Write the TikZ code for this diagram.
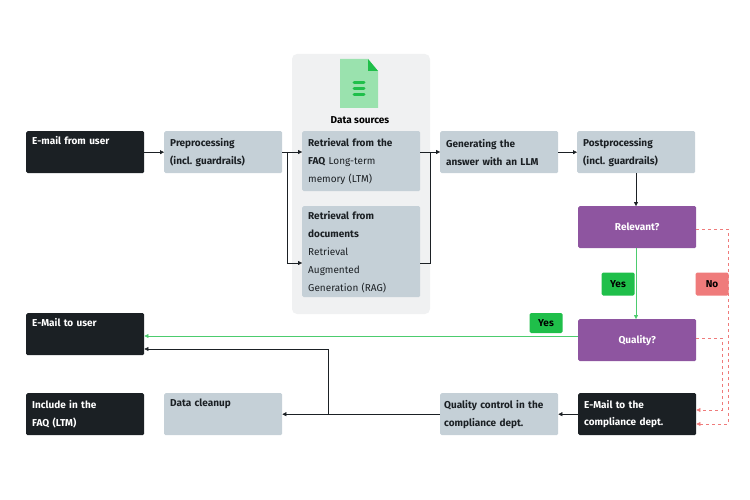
\documentclass[tikz,border=0pt]{standalone}
\usepackage{fontspec}
\setmainfont{Fira Sans}
\frenchspacing
\usetikzlibrary{positioning,calc,arrows.meta}
\definecolor{dark}{HTML}{1B2024}
\definecolor{pale}{HTML}{C5D0D7}
\definecolor{panel}{HTML}{F0F1F2}
\definecolor{violet}{HTML}{8E55A0}
\definecolor{okgreen}{HTML}{1FBF4A}
\definecolor{nored}{HTML}{EF7B7B}
\tikzset{
  box/.style={rounded corners=1.5pt, minimum width=117pt, minimum height=42pt, anchor=north west, align=left, text width=106pt, inner xsep=6pt, font=\fontsize{10}{18}\selectfont},
  blk/.style={box, fill=dark, text=white, font=\fontsize{10}{17.5}\selectfont\bfseries},
  gry/.style={box, fill=pale, text=dark},
  dec/.style={box, fill=violet, text=white, align=center, font=\fontsize{10}{12}\selectfont\bfseries},
  tag/.style={rounded corners=1.5pt, minimum width=33pt, minimum height=23pt, font=\fontsize{10}{12}\selectfont\bfseries},
  flow/.style={draw=dark, -{Triangle[length=4pt,width=4pt]}},
  no/.style={draw=nored, dashed, -{Triangle[length=4pt,width=4pt]}},
}
\begin{document}
\begin{tikzpicture}[x=1pt,y=-1pt]
  \useasboundingbox (0,0) rectangle (750,500);
  \fill[panel, rounded corners=5pt] (292,54) rectangle (430,314);
  % icon
  \fill[okgreen!45!white] (340,59) -- (368,59) -- (378,71) -- (378,108) -- (340,108) -- cycle;
  \fill[okgreen] (368,59) -- (378,71) -- (368,71) -- cycle;
  \foreach \yy in {83,89,95} \draw[okgreen, line width=3pt, line cap=round] (354,\yy) -- (364,\yy);
  \node[font=\fontsize{10}{12}\selectfont\bfseries] (ds) at (360,120) {Data sources};

  \node[blk] (user) at (26,131) {E-mail from user\\\strut};
  \node[gry] (pre) at (164,131) {\textbf{Preprocessing}\\\textbf{(incl. guardrails)}};
  \node[gry, minimum width=118pt, minimum height=60pt] (faq) at (302,131) {\textbf{Retrieval from the}\\\textbf{FAQ} Long-term\\memory (LTM)};
  \node[gry, minimum width=118pt, minimum height=91pt] (doc) at (302,206) {\textbf{Retrieval from}\\\textbf{documents}\\Retrieval\\Augmented\\Generation (RAG)};
  \node[gry] (gen) at (440,131) {\textbf{Generating the}\\\textbf{answer with an LLM}};
  \node[gry] (post) at (577,131) {\textbf{Postprocessing}\\\textbf{(incl. guardrails)}};
  \node[dec] (rel) at (578,206) {Relevant?};
  \node[dec] (qual) at (578,319) {Quality?};
  \node[blk] (touser) at (26,313) {E-Mail to user\\\strut};
  \node[blk] (faqinc) at (26,393) {Include in the\\FAQ (LTM)};
  \node[gry] (clean) at (164,393) {\textbf{Data cleanup}\\\strut};
  \node[gry, text width=110pt, inner xsep=4pt] (qc) at (440,393) {\textbf{Quality control in the}\\\textbf{compliance dept.}};
  \node[blk] (comp) at (578,393) {E-Mail to the\\compliance dept.};

  \node[tag, fill=okgreen] (yes1) at (618,284) {Yes};
  \node[tag, fill=nored] (no1) at (712,284) {No};

  \draw[flow] (user) -- (pre);
  \coordinate (split) at (287,152);
  \draw[draw=dark] (pre.east|-split) -- (split);
  \draw[flow] (split) -- (faq.west|-split);
  \draw[flow] (split) |- (doc.west|-0,263);
  \coordinate (join) at (430,152);
  \draw[flow] (faq.east|-join) -- (gen.west|-join);
  \draw[draw=dark] (doc.east|-0,263) -| (join);
  \draw[flow] (gen) -- (post);
  \draw[flow] (post.south-|636,0) -- (rel.north-|636,0);
  \draw[flow, draw=okgreen!80!white] (rel.south-|636,0) -- (qual.north-|636,0);
  \draw[flow, draw=okgreen!80!white] (qual.west|-0,336) -- (touser.east|-0,336);
  \node[tag, fill=okgreen, minimum height=20pt] (yes2) at (546,323) {Yes};
  \draw[flow] (comp) -- (qc);
  \draw[flow] (qc) -- (clean);
  \coordinate (up) at (328,414);
  \draw[flow] (up) |- (touser.east|-0,349);
  \draw[no] (rel.east|-0,229) -| (728,424) -- (comp.east|-0,424);
  \draw[no] (qual.east|-0,338) -| (722,410) -- (comp.east|-0,410);
\end{tikzpicture}
\end{document}
